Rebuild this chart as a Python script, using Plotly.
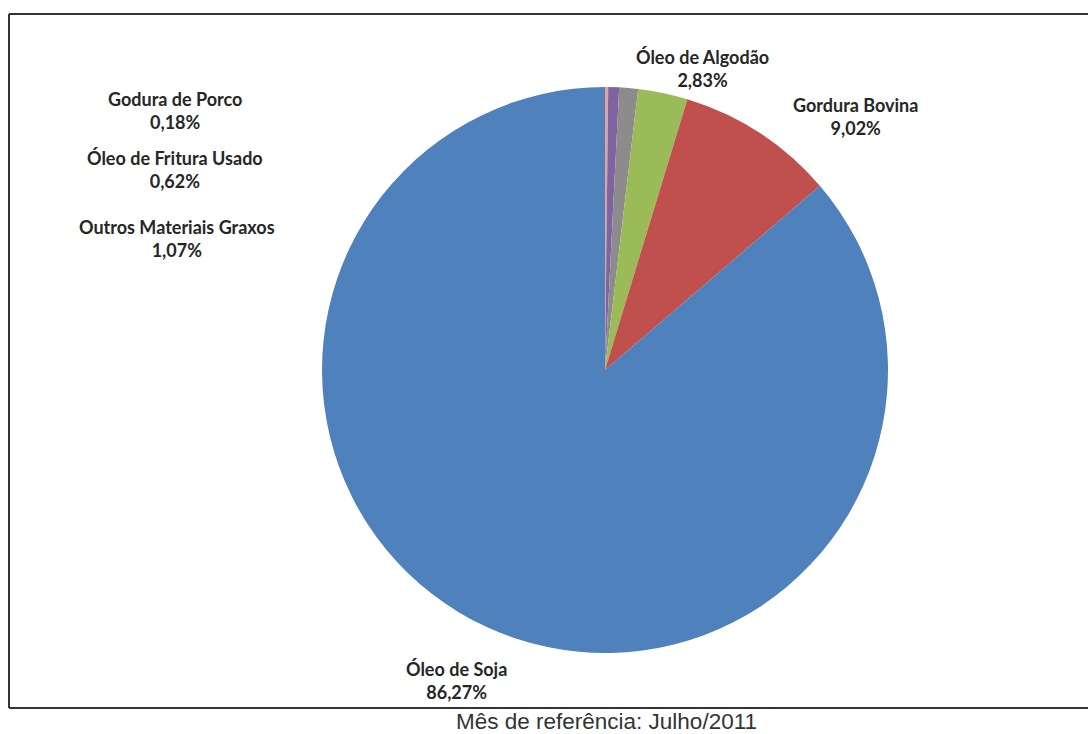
import plotly.graph_objects as go

W, H = 1088, 734

labels = ["Godura de Porco", "Óleo de Fritura Usado", "Outros Materiais Graxos",
          "Óleo de Algodão", "Gordura Bovina", "Óleo de Soja"]
values = [0.18, 0.62, 1.07, 2.83, 9.02, 86.27]
value_text = ["0,18%", "0,62%", "1,07%", "2,83%", "9,02%", "86,27%"]
colors = ["#E3A39C", "#8064A2", "#8C8C8C", "#9BBB59", "#C0504D", "#4F81BD"]

# label centre positions in pixels (midpoint between the two lines)
label_pos = [(175, 111), (175, 170), (177, 239), (702, 68), (855, 117), (456, 680)]

def px(x, y):
    return x / W, 1 - y / H

cx, cy, r = 605, 370, 283
x0, y1 = px(cx - r, cy - r)
x1, y0 = px(cx + r, cy + r)

fig = go.Figure(go.Pie(
    labels=labels, values=values, sort=False, direction="clockwise", rotation=0,
    marker=dict(colors=colors, line=dict(width=0)),
    textinfo="none", hoverinfo="label+percent", showlegend=False,
    domain=dict(x=[x0, x1], y=[y0, y1]),
))

annotations = []
for lab, vt, (lx, ly) in zip(labels, value_text, label_pos):
    ax, ay = px(lx, ly)
    annotations.append(dict(
        x=ax, y=ay, xref="paper", yref="paper", showarrow=False,
        text=f"<b>{lab}</b><br><b>{vt}</b>", align="center",
        font=dict(family="Lato", size=18, color="#262626"),
        xanchor="center", yanchor="middle",
    ))

cx_cap, cy_cap = px(606, 721)
annotations.append(dict(
    x=cx_cap, y=cy_cap, xref="paper", yref="paper", showarrow=False,
    text="Mês de referência: Julho/2011",
    font=dict(family="Liberation Sans, Arial", size=22.5, color="#333333"),
    xanchor="center", yanchor="middle",
))

lc = "#333333"
bl, bt = px(9, 14)
bb = 1 - 708 / H
shapes = [
    dict(type="line", xref="paper", yref="paper", x0=bl, x1=1.02, y0=bt, y1=bt, line=dict(color=lc, width=2)),
    dict(type="line", xref="paper", yref="paper", x0=bl, x1=1.02, y0=bb, y1=bb, line=dict(color=lc, width=2)),
    dict(type="line", xref="paper", yref="paper", x0=bl, x1=bl, y0=bt, y1=bb, line=dict(color=lc, width=2)),
]

fig.update_layout(
    width=W, height=H, margin=dict(l=0, r=0, t=0, b=0),
    paper_bgcolor="white", plot_bgcolor="white",
    annotations=annotations, shapes=shapes,
)

fig.write_html("out.html", config={"displayModeBar": False},
               post_script="document.body.style.margin='0';document.body.style.overflow='hidden';")
